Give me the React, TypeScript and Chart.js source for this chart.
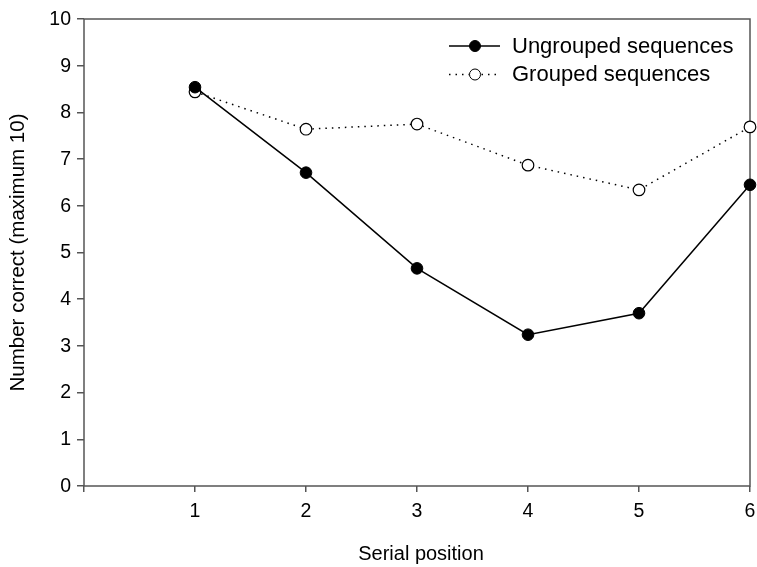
import React, { useEffect, useRef } from "react";
import { Chart, registerables } from "chart.js";

Chart.register(...registerables);

const positions = [1, 2, 3, 4, 5, 6];
const ungrouped = [8.54, 6.71, 4.66, 3.24, 3.7, 6.45];
const grouped = [8.44, 7.64, 7.75, 6.87, 6.34, 7.69];
const yTicks = [0, 1, 2, 3, 4, 5, 6, 7, 8, 9, 10];
const xTicks = [0, 1, 2, 3, 4, 5, 6];
const xTickLabels = ["", "1", "2", "3", "4", "5", "6"];
const seriesNames = ["Ungrouped sequences", "Grouped sequences"];
const xTitle = "Serial position";
const yTitle = "Number correct (maximum 10)";

const FONT = "'Liberation Sans', Arial, sans-serif";
const AXIS = "#555555";
const TEXT = "#000000";

function drawText(ctx: any, text: string, x: number, y: number, size: number, align: string, rotate = 0) {
  ctx.save();
  ctx.translate(x, y);
  if (rotate) ctx.rotate(rotate);
  ctx.font = `${size}px ${FONT}`;
  ctx.fillStyle = TEXT;
  ctx.textAlign = align;
  ctx.textBaseline = "middle";
  ctx.fillText(text, 0, 0);
  ctx.restore();
}

const framePlugin = {
  id: "frame",
  beforeDatasetsDraw(chart: any) {
    const { ctx, chartArea } = chart;
    ctx.save();
    ctx.strokeStyle = AXIS;
    ctx.lineWidth = 1.5;
    ctx.strokeRect(chartArea.left, chartArea.top, chartArea.right - chartArea.left, chartArea.bottom - chartArea.top);
    ctx.restore();
  },
  afterDatasetsDraw(chart: any) {
    const { ctx, chartArea } = chart;
    const xs = chart.scales.x;
    const ys = chart.scales.y;
    yTicks.forEach((v) => {
      drawText(ctx, String(v), 71, ys.getPixelForValue(v) + 0.5, 19.5, "right");
    });
    xTicks.forEach((v, i) => {
      if (xTickLabels[i]) drawText(ctx, xTickLabels[i], xs.getPixelForValue(v), 512, 19.5, "center");
    });
    drawText(ctx, xTitle, (chartArea.left + chartArea.right) / 2 + 4, 554, 20, "center");
    drawText(ctx, yTitle, 18, (chartArea.top + chartArea.bottom) / 2, 20.5, "center", -Math.PI / 2);
    const items = [
      { name: seriesNames[0], y: 46, dash: [] as number[], fill: "#000000" },
      { name: seriesNames[1], y: 74.5, dash: [1.5, 5], fill: "#ffffff" },
    ];
    ctx.save();
    for (const it of items) {
      ctx.strokeStyle = "#000";
      ctx.lineWidth = 1.5;
      ctx.setLineDash(it.dash);
      ctx.beginPath();
      ctx.moveTo(449, it.y);
      ctx.lineTo(500, it.y);
      ctx.stroke();
      ctx.setLineDash([]);
      ctx.beginPath();
      ctx.arc(475, it.y, 5.5, 0, Math.PI * 2);
      ctx.fillStyle = it.fill;
      ctx.fill();
      ctx.lineWidth = 1;
      ctx.stroke();
      drawText(ctx, it.name, 512, it.y + 0.5, 22, "left");
    }
    ctx.restore();
  },
};

export default function App() {
  const ref = useRef<HTMLCanvasElement>(null);
  useEffect(() => {
    if (!ref.current) return;
    const chart = new Chart(ref.current, {
      type: "line",
      data: {
        datasets: [
          {
            label: seriesNames[0],
            data: positions.map((x, i) => ({ x, y: ungrouped[i] })),
            borderColor: "#000",
            borderWidth: 1.5,
            pointRadius: 5.8,
            pointBackgroundColor: "#000",
            pointBorderColor: "#000",
            pointBorderWidth: 1,
            clip: false as any,
          },
          {
            label: seriesNames[1],
            data: positions.map((x, i) => ({ x, y: grouped[i] })),
            borderColor: "#000",
            borderWidth: 1.5,
            borderDash: [1.5, 5],
            pointRadius: 5.8,
            pointBackgroundColor: "#fff",
            pointBorderColor: "#000",
            pointBorderWidth: 1.2,
            clip: false as any,
          },
        ],
      },
      options: {
        animation: false,
        responsive: false,
        layout: { padding: { top: 19, right: 6, left: 0, bottom: 0 } },
        plugins: { legend: { display: false }, tooltip: { enabled: false } },
        scales: {
          x: {
            type: "linear",
            min: 0,
            max: 6,
            afterFit: (s: any) => { s.height = 81; s.paddingLeft = 0; s.paddingRight = 0; },
            afterBuildTicks: (s: any) => { s.ticks = xTicks.map((v) => ({ value: v })); },
            ticks: { display: false },
            grid: { drawOnChartArea: false, drawTicks: true, tickLength: 6, color: AXIS, lineWidth: 1.5 },
            border: { display: false },
          },
          y: {
            type: "linear",
            min: 0,
            max: 10,
            afterFit: (s: any) => { s.width = 84; s.paddingTop = 0; s.paddingBottom = 0; },
            afterBuildTicks: (s: any) => { s.ticks = yTicks.map((v) => ({ value: v })); },
            ticks: { display: false },
            grid: { drawOnChartArea: false, drawTicks: true, tickLength: 7, color: AXIS, lineWidth: 1.5 },
            border: { display: false },
          },
        },
      },
      plugins: [framePlugin],
    });
    return () => chart.destroy();
  }, []);
  return (
    <div style={{ position: "absolute", left: 0, top: 0, width: 757, height: 567, background: "#fff" }}>
      <canvas ref={ref} width={757} height={567} style={{ display: "block" }} />
    </div>
  );
}
